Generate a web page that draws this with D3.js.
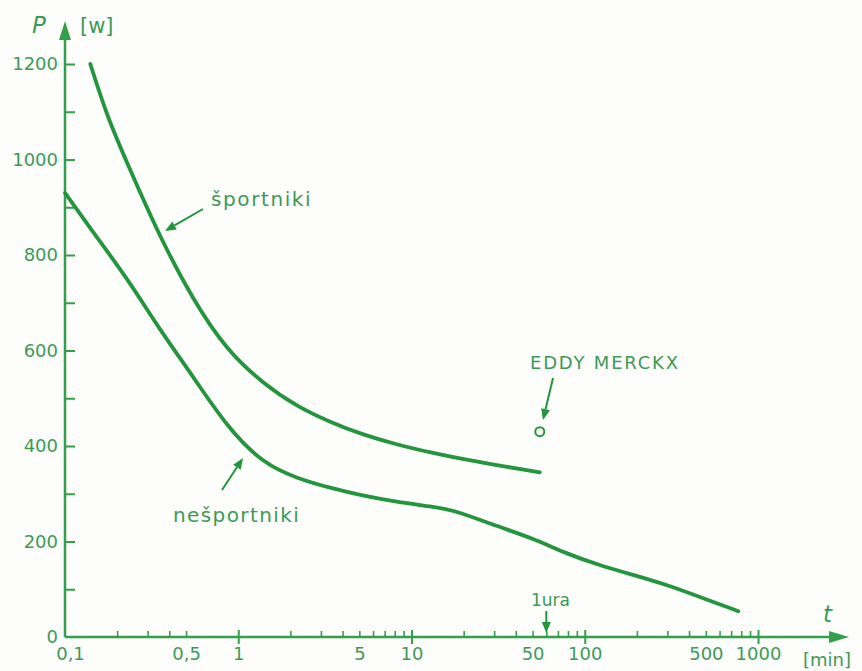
<!DOCTYPE html>
<html>
<head>
<meta charset="utf-8">
<script src="https://cdn.jsdelivr.net/npm/d3@7"></script>
<style>
  html, body { margin: 0; padding: 0; background: #fdfdfc; }
  svg { display: block; font-family: "DejaVu Sans", sans-serif; }
</style>
</head>
<body>
<svg id="chart" width="862" height="671"></svg>
<script>
// t in minutes, P in W
const sportT = [0.14, 0.175, 0.23, 0.35, 0.55, 0.86, 1.4, 2.2, 3.4, 5.2, 8.2, 13, 20, 31, 55];
const sportP = [1200, 1090, 990, 840, 705, 600, 530, 482, 450, 424, 403, 386, 372, 360, 345];

const nonT = [0.1, 0.145, 0.23, 0.35, 0.55, 0.86, 1.4, 2.2, 3.4, 5.2, 8.2, 13, 18, 31, 50, 79, 120, 190, 300, 460, 770];
const nonP = [930, 848, 750, 645, 545, 440, 362, 332, 312, 296, 283, 273, 265, 232, 207, 174, 151, 130, 109, 84, 54];

const merckx = { t: 55, p: 430 };

const xLabelTicks = [0.1, 0.5, 1, 5, 10, 50, 100, 500, 1000];
const xMajorTicks = [1, 10, 100, 1000];
const xMinorTicks = [0.2, 0.3, 0.4, 0.5, 2, 3, 4, 5, 6, 7, 8, 9, 20, 30, 40, 50, 60, 70, 80, 90,
                     200, 300, 400, 500, 600, 700, 800, 900];
const yLabelTicks = [0, 200, 400, 600, 800, 1000, 1200];
const yMinorTicks = [100, 300, 500, 700, 900, 1100];

const LINE = "#23953c", AXIS = "#33a049", TEXT = "#3d9a56";

const svg = d3.select("#chart");
const x = d3.scaleLog().domain([0.1, 1000]).range([65, 758]);
const y = d3.scaleLinear().domain([0, 1200]).range([637, 64]);
const x0 = x(0.1), y0 = y(0);

// axes lines + arrowheads
svg.append("line").attr("x1", x0).attr("y1", y0).attr("x2", x0).attr("y2", 34)
    .attr("stroke", AXIS).attr("stroke-width", 2.5);
svg.append("path").attr("d", `M${x0},21 L${x0 - 6},40 L${x0 + 6},40 Z`).attr("fill", AXIS);
svg.append("line").attr("x1", x0).attr("y1", y0).attr("x2", 838).attr("y2", y0)
    .attr("stroke", AXIS).attr("stroke-width", 2.5);
svg.append("path").attr("d", `M849,${y0} L829,${y0 - 6} L829,${y0 + 6} Z`).attr("fill", AXIS);

// y ticks
svg.append("g").attr("transform", `translate(${x0},0)`)
    .call(d3.axisLeft(y).tickValues(yLabelTicks.concat(yMinorTicks)).tickSize(-10).tickPadding(7)
        .tickFormat(d => yLabelTicks.includes(d) ? d : ""))
    .call(g => g.select(".domain").remove())
    .call(g => g.selectAll("line").attr("stroke", AXIS).attr("stroke-width", 2)
        .attr("display", d => d === 0 ? "none" : null))
    .call(g => g.selectAll("text").attr("fill", TEXT).attr("font-size", 18)
        .attr("font-family", "DejaVu Sans"));

// x minor ticks (above axis)
svg.append("g").attr("transform", `translate(0,${y0})`)
    .call(d3.axisBottom(x).tickValues(xMinorTicks).tickSize(-6).tickFormat(""))
    .call(g => g.select(".domain").remove())
    .call(g => g.selectAll("line").attr("stroke", AXIS).attr("stroke-width", 1.6));

// x major ticks (across axis)
svg.append("g").attr("transform", `translate(0,${y0})`)
    .call(d3.axisBottom(x).tickValues(xMajorTicks).tickSize(7).tickFormat(""))
    .call(g => g.select(".domain").remove())
    .call(g => g.selectAll("line").attr("y1", -7).attr("stroke", AXIS).attr("stroke-width", 2));

// x labels
svg.append("g").attr("transform", `translate(0,${y0})`)
    .call(d3.axisBottom(x).tickValues(xLabelTicks).tickSize(0).tickPadding(10)
        .tickFormat(d => String(d).replace(".", ",")))
    .call(g => g.select(".domain").remove())
    .call(g => g.selectAll("text").attr("fill", TEXT).attr("font-size", 18)
        .attr("font-family", "DejaVu Sans"))
    .call(g => g.selectAll(".tick").filter(d => d === 0.1).select("text").attr("dx", 5));

// curves (smoothed like the hand-drawn original)
const line = d3.line().x(d => x(d[0])).y(d => y(d[1])).curve(d3.curveBasis);
svg.append("path").datum(sportT.map((t, i) => [t, sportP[i]]))
    .attr("d", line).attr("fill", "none").attr("stroke", LINE)
    .attr("stroke-width", 3.8).attr("stroke-linecap", "round");
svg.append("path").datum(nonT.map((t, i) => [t, nonP[i]]))
    .attr("d", line).attr("fill", "none").attr("stroke", LINE)
    .attr("stroke-width", 3.8).attr("stroke-linecap", "round");

// Merckx point
svg.append("circle").attr("cx", x(merckx.t)).attr("cy", y(merckx.p)).attr("r", 4.5)
    .attr("fill", "none").attr("stroke", LINE).attr("stroke-width", 2);

// arrows
function arrow(x1, y1, x2, y2) {
    const a = Math.atan2(y2 - y1, x2 - x1), L = 11, W = 4.5;
    const bx = x2 - L * Math.cos(a), by = y2 - L * Math.sin(a);
    svg.append("line").attr("x1", x1).attr("y1", y1).attr("x2", bx).attr("y2", by)
        .attr("stroke", LINE).attr("stroke-width", 2);
    svg.append("path")
        .attr("d", `M${x2},${y2} L${bx + W * Math.sin(a)},${by - W * Math.cos(a)} L${bx - W * Math.sin(a)},${by + W * Math.cos(a)} Z`)
        .attr("fill", LINE);
}
arrow(203, 209, 165, 231);
arrow(222, 490, 243, 458);
arrow(553, 378, 543, 420);
arrow(x(60), 611, x(60), 633);

// texts
const label = (tx, ty, s, opts = {}) => svg.append("text").attr("x", tx).attr("y", ty)
    .attr("fill", TEXT).attr("font-size", opts.size || 18)
    .attr("font-style", opts.italic ? "italic" : null)
    .attr("text-anchor", opts.anchor || "start")
    .attr("letter-spacing", opts.ls || null).text(s);

label(211, 206, "športniki", { size: 20, ls: 1.6 });
label(173, 522, "nešportniki", { size: 20, ls: 1.4 });
label(530, 369, "EDDY MERCKX", { size: 18, ls: 1.8 });
label(531, 606, "1ura", { size: 17 });
label(32, 33, "P", { size: 23, italic: true });
label(80, 33, "[w]", { size: 21 });
label(823, 622, "t", { size: 23, italic: true });
label(803, 666, "[min]", { size: 18 });
</script>
</body>
</html>
